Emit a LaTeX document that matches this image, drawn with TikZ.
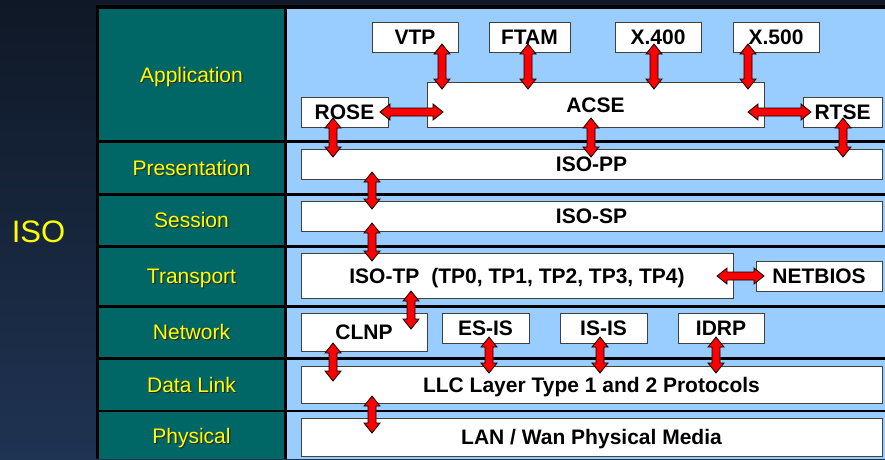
\documentclass[tikz,border=0pt]{standalone}
\usepackage{fontspec}
\setmainfont{Liberation Sans}
\usetikzlibrary{calc}

\definecolor{navytop}{HTML}{0F1826}
\definecolor{navymid}{HTML}{1C2D4A}
\definecolor{navybot}{HTML}{1F3352}
\definecolor{layerteal}{HTML}{006666}
\definecolor{stackblue}{HTML}{99CCFF}
\definecolor{labelyellow}{HTML}{FFFF00}

\newcommand\bxfont{\fontsize{21}{24}\selectfont\bfseries}
\newcommand\lyrfont{\fontsize{21}{24}\selectfont}

\tikzset{
  box/.style={draw=black!75, line width=1pt, fill=white, inner sep=0pt,
    outer sep=0pt, font=\bxfont, text height=15pt, text depth=0pt},
  layerlabel/.style={font=\lyrfont, text=labelyellow, inner sep=0pt,
    text height=15pt, text depth=0pt},
  layershadow/.style={layerlabel, text=black!85},
  fatarrow/.style={fill=red, draw=black, line width=0.8pt, line join=miter},
}

% a white protocol box given by its pixel corners
\newcommand\stackbox[6]{%
  \node[box, minimum width={(#4-#2)*1pt}, minimum height={(#5-#3)*1pt}]
    (#1) at ({(#2+#4)/2},{(#3+#5)/2}) {#6};}

% yellow layer name with a dark drop shadow
\newcommand\layername[3]{%
  \node[layershadow] at (192.6,#2+1.1) {#3};
  \node[layerlabel] (#1) at (191.5,#2) {#3};}

% fat red double-headed arrow between two points
\newcommand\fatarrow[2]{%
  \path let \p1=(#1), \p2=(#2) in \pgfextra{%
    \pgfmathsetmacro\faAng{atan2(\y2-\y1,\x2-\x1)}%
    \pgfmathsetmacro\faLen{veclen(\x2-\x1,\y2-\y1)}%
    \pgfmathsetmacro\faMid{\faLen-10}%
    \xdef\faAng{\faAng}\xdef\faLen{\faLen}\xdef\faMid{\faMid}%
    \xdef\faX{\x1}\xdef\faY{\y1}};
  \filldraw[fatarrow, shift={(\faX,\faY)}, rotate=\faAng, x=1pt, y=1pt]
    (0,0) -- (10,8) -- (10,4) -- (\faMid,4) -- (\faMid,8) -- (\faLen,0)
    -- (\faMid,-8) -- (\faMid,-4) -- (10,-4) -- (10,-8) -- cycle;}

% vertical link: x, upper box, overlap, lower box, overlap
\newcommand\vlink[5]{%
  \fatarrow{$(#1,0 |- #2.south)+(0,-#3)$}{$(#1,0 |- #4.north)+(0,#5)$}}
% horizontal link: y, left box, overlap, right box, overlap
\newcommand\hlink[5]{%
  \fatarrow{$(#2.east |- 0,#1)+(-#3,0)$}{$(#4.west |- 0,#1)+(#5,0)$}}

\begin{document}
\begin{tikzpicture}[x=1pt, y=-1pt]
\useasboundingbox (0,0) rectangle (885,459);

% backdrop
\shade[top color=navytop, middle color=navymid, bottom color=navybot]
  (0,0) rectangle (885,459);

% table frame
\fill[black] (96,5) rectangle (885,459);
\foreach \ya/\yb in {9/140, 143/193, 195.5/245, 247.5/305, 307.5/357,
                     360/409.5, 412/459}{
  \fill[layerteal] (99,\ya) rectangle (284,\yb);
  \fill[stackblue] (287,\ya) rectangle (885,\yb);
}

% side title
\node[font=\fontsize{31}{36}\selectfont, text=labelyellow, inner sep=0pt,
      text height=22pt, text depth=0pt] (iso) at (38.5,231) {ISO};

% layer names
\layername{lapp}{74.5}{Application}
\layername{lpres}{168}{Presentation}
\layername{lsess}{220}{Session}
\layername{ltrans}{276}{Transport}
\layername{lnet}{332}{Network}
\layername{ldata}{385}{Data Link}
\layername{lphys}{436}{Physical}

% application layer
\stackbox{vtp}{372}{22}{458}{52}{VTP}
\stackbox{ftam}{489}{22}{570}{52}{FTAM}
\stackbox{x400}{615}{22}{701}{52}{X.400}
\stackbox{x500}{733}{22}{819}{52}{X.500}
\stackbox{acse}{427}{82}{764}{127}{ACSE}
\stackbox{rose}{301}{97}{388}{127}{ROSE}
\stackbox{rtse}{803}{97}{882}{127}{RTSE}

% presentation, session, transport
\stackbox{isopp}{301}{149}{882}{179}{ISO-PP}
\stackbox{isosp}{301}{201}{882}{231}{ISO-SP}
\stackbox{isotp}{301}{253}{733}{298}{ISO-TP\hspace{12pt}(TP0, TP1, TP2, TP3, TP4)}
\stackbox{netbios}{756}{261}{882}{291}{NETBIOS}

% network
\stackbox{clnp}{301}{313}{427}{351}{CLNP}
\stackbox{esis}{442}{313}{529}{343}{ES-IS}
\stackbox{isis}{560}{313}{647}{343}{IS-IS}
\stackbox{idrp}{678}{313}{764}{343}{IDRP}

% data link, physical
\stackbox{llc}{301}{366}{882}{403}{LLC Layer Type 1 and 2 Protocols}
\stackbox{lan}{301}{418}{882}{456}{LAN / Wan Physical Media}

% links
\vlink{442}{vtp}{8}{acse}{7}
\vlink{528}{ftam}{8}{acse}{7}
\vlink{654}{x400}{8}{acse}{7}
\vlink{748}{x500}{8}{acse}{7}
\hlink{112}{rose}{8}{acse}{16}
\hlink{112}{acse}{16}{rtse}{8}
\vlink{333}{rose}{9}{isopp}{8}
\vlink{591}{acse}{9}{isopp}{8}
\vlink{843}{rtse}{9}{isopp}{8}
\vlink{372}{isopp}{7}{isosp}{8}
\vlink{372}{isosp}{8}{isotp}{8}
\hlink{276}{isotp}{16}{netbios}{8}
\vlink{411}{isotp}{7}{clnp}{16}
\vlink{333}{clnp}{8}{llc}{15}
\vlink{489}{esis}{6}{llc}{7}
\vlink{600}{isis}{6}{llc}{7}
\vlink{716}{idrp}{6}{llc}{7}
\vlink{372}{llc}{7}{lan}{15}
\end{tikzpicture}
\end{document}
